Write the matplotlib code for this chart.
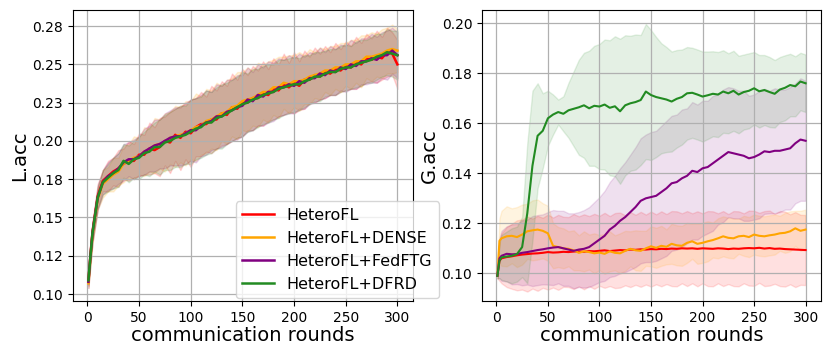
import matplotlib
matplotlib.use("Agg")
import matplotlib.pyplot as plt
import numpy as np

# communication rounds sampled from the curves
ROUNDS = [1, 3] + list(range(5, 301, 5))

METHODS = ["HeteroFL", "HeteroFL+DENSE", "HeteroFL+FedFTG", "HeteroFL+DFRD"]
COLORS = ["red", "orange", "purple", "forestgreen"]

# ---- left panel: L.acc (mean / std per method) ----
L_HETEROFL = [
    0.108, 0.126, 0.141, 0.164, 0.174, 0.177, 0.180, 0.182, 0.185, 0.187,
    0.187, 0.191, 0.191, 0.195, 0.194, 0.196, 0.200, 0.199, 0.204, 0.202,
    0.206, 0.205, 0.209, 0.211, 0.211, 0.214, 0.214, 0.218, 0.217, 0.222,
    0.221, 0.225, 0.225, 0.228, 0.228, 0.231, 0.230, 0.234, 0.233, 0.237,
    0.235, 0.238, 0.236, 0.240, 0.240, 0.243, 0.242, 0.245, 0.244, 0.247,
    0.246, 0.249, 0.248, 0.251, 0.250, 0.254, 0.253, 0.255, 0.254, 0.258,
    0.257, 0.250]
L_DENSE = [
    0.107, 0.124, 0.139, 0.162, 0.172, 0.175, 0.178, 0.180, 0.185, 0.187,
    0.189, 0.190, 0.193, 0.194, 0.197, 0.198, 0.199, 0.202, 0.203, 0.204,
    0.205, 0.207, 0.209, 0.210, 0.213, 0.214, 0.216, 0.218, 0.219, 0.222,
    0.223, 0.226, 0.227, 0.228, 0.230, 0.232, 0.232, 0.235, 0.235, 0.238,
    0.237, 0.239, 0.239, 0.240, 0.242, 0.243, 0.244, 0.246, 0.246, 0.248,
    0.248, 0.250, 0.250, 0.252, 0.252, 0.255, 0.255, 0.256, 0.257, 0.259,
    0.260, 0.259]
L_FEDFTG = [
    0.108, 0.125, 0.140, 0.163, 0.173, 0.177, 0.179, 0.182, 0.186, 0.188,
    0.188, 0.190, 0.193, 0.195, 0.197, 0.198, 0.200, 0.202, 0.203, 0.203,
    0.205, 0.207, 0.207, 0.210, 0.212, 0.213, 0.216, 0.216, 0.219, 0.220,
    0.222, 0.223, 0.227, 0.226, 0.230, 0.229, 0.232, 0.232, 0.235, 0.235,
    0.237, 0.236, 0.239, 0.238, 0.241, 0.241, 0.244, 0.243, 0.246, 0.245,
    0.248, 0.247, 0.250, 0.249, 0.252, 0.252, 0.254, 0.253, 0.256, 0.256,
    0.259, 0.256]
L_DFRD = [
    0.109, 0.125, 0.140, 0.163, 0.173, 0.176, 0.179, 0.181, 0.187, 0.185,
    0.188, 0.189, 0.192, 0.193, 0.196, 0.196, 0.199, 0.200, 0.202, 0.203,
    0.204, 0.206, 0.208, 0.209, 0.212, 0.212, 0.215, 0.216, 0.218, 0.220,
    0.222, 0.224, 0.225, 0.227, 0.228, 0.230, 0.231, 0.232, 0.234, 0.235,
    0.236, 0.237, 0.237, 0.239, 0.240, 0.242, 0.242, 0.244, 0.245, 0.245,
    0.247, 0.248, 0.248, 0.250, 0.251, 0.252, 0.253, 0.255, 0.256, 0.258,
    0.257, 0.256]

L_HETEROFL_STD = [
    0.003, 0.005, 0.007, 0.008, 0.007, 0.010, 0.009, 0.012, 0.010, 0.013,
    0.011, 0.014, 0.013, 0.017, 0.015, 0.019, 0.016, 0.020, 0.017, 0.021,
    0.018, 0.022, 0.019, 0.021, 0.018, 0.022, 0.019, 0.021, 0.019, 0.022,
    0.019, 0.022, 0.018, 0.021, 0.018, 0.021, 0.017, 0.020, 0.017, 0.020,
    0.016, 0.020, 0.016, 0.019, 0.015, 0.018, 0.015, 0.017, 0.014, 0.017,
    0.014, 0.016, 0.014, 0.017, 0.014, 0.016, 0.014, 0.017, 0.014, 0.016,
    0.014, 0.016]
L_DENSE_STD = [
    0.003, 0.006, 0.006, 0.007, 0.009, 0.008, 0.011, 0.009, 0.012, 0.011,
    0.014, 0.012, 0.016, 0.014, 0.018, 0.016, 0.019, 0.017, 0.020, 0.018,
    0.021, 0.019, 0.022, 0.019, 0.021, 0.019, 0.022, 0.018, 0.021, 0.019,
    0.022, 0.019, 0.021, 0.018, 0.021, 0.018, 0.020, 0.018, 0.020, 0.017,
    0.019, 0.017, 0.019, 0.016, 0.018, 0.015, 0.017, 0.014, 0.016, 0.014,
    0.016, 0.014, 0.016, 0.014, 0.017, 0.014, 0.016, 0.014, 0.016, 0.015,
    0.016, 0.014]
L_FEDFTG_STD = [
    0.004, 0.005, 0.006, 0.008, 0.008, 0.009, 0.010, 0.010, 0.012, 0.011,
    0.013, 0.013, 0.015, 0.015, 0.017, 0.016, 0.018, 0.018, 0.019, 0.019,
    0.020, 0.020, 0.021, 0.020, 0.021, 0.019, 0.021, 0.020, 0.021, 0.020,
    0.021, 0.020, 0.021, 0.019, 0.020, 0.019, 0.020, 0.019, 0.019, 0.018,
    0.019, 0.018, 0.018, 0.017, 0.017, 0.016, 0.017, 0.015, 0.016, 0.015,
    0.015, 0.015, 0.016, 0.015, 0.015, 0.015, 0.016, 0.015, 0.015, 0.016,
    0.015, 0.015]
L_DFRD_STD = [
    0.003, 0.005, 0.005, 0.007, 0.008, 0.009, 0.010, 0.011, 0.011, 0.012,
    0.012, 0.014, 0.014, 0.016, 0.016, 0.018, 0.018, 0.019, 0.019, 0.020,
    0.019, 0.021, 0.020, 0.020, 0.021, 0.020, 0.020, 0.021, 0.020, 0.020,
    0.020, 0.021, 0.019, 0.020, 0.019, 0.019, 0.019, 0.018, 0.019, 0.018,
    0.018, 0.018, 0.017, 0.017, 0.016, 0.016, 0.016, 0.015, 0.015, 0.015,
    0.015, 0.015, 0.014, 0.015, 0.015, 0.014, 0.015, 0.015, 0.014, 0.015,
    0.015, 0.016]

# ---- right panel: G.acc (mean / std per method) ----
G_HETEROFL = [
    0.0990, 0.1050, 0.1060, 0.1065, 0.1068, 0.1072, 0.1075, 0.1077, 0.1079, 0.1080,
    0.1082, 0.1085, 0.1083, 0.1084, 0.1086, 0.1085, 0.1087, 0.1088, 0.1086, 0.1089,
    0.1088, 0.1090, 0.1092, 0.1089, 0.1091, 0.1093, 0.1092, 0.1095, 0.1094, 0.1096,
    0.1095, 0.1097, 0.1096, 0.1098, 0.1097, 0.1099, 0.1098, 0.1100, 0.1099, 0.1100,
    0.1098, 0.1100, 0.1099, 0.1098, 0.1100, 0.1099, 0.1097, 0.1099, 0.1098, 0.1100,
    0.1101, 0.1100, 0.1102, 0.1099, 0.1101, 0.1098, 0.1099, 0.1097, 0.1096, 0.1095,
    0.1094, 0.1093]
G_DENSE = [
    0.0990, 0.1130, 0.1140, 0.1148, 0.1150, 0.1145, 0.1155, 0.1168, 0.1172, 0.1175,
    0.1170, 0.1160, 0.1110, 0.1105, 0.1100, 0.1098, 0.1092, 0.1082, 0.1088, 0.1085,
    0.1080, 0.1083, 0.1078, 0.1088, 0.1082, 0.1080, 0.1090, 0.1098, 0.1092, 0.1090,
    0.1100, 0.1108, 0.1102, 0.1110, 0.1106, 0.1118, 0.1112, 0.1110, 0.1122, 0.1128,
    0.1118, 0.1122, 0.1128, 0.1133, 0.1140, 0.1148, 0.1142, 0.1140, 0.1148, 0.1150,
    0.1145, 0.1155, 0.1150, 0.1148, 0.1152, 0.1155, 0.1160, 0.1162, 0.1168, 0.1180,
    0.1170, 0.1175]
G_FEDFTG = [
    0.0990, 0.1060, 0.1070, 0.1078, 0.1076, 0.1077, 0.1082, 0.1085, 0.1089, 0.1093,
    0.1096, 0.1100, 0.1103, 0.1105, 0.1100, 0.1095, 0.1090, 0.1095, 0.1098, 0.1105,
    0.1120, 0.1135, 0.1150, 0.1175, 0.1190, 0.1210, 0.1225, 0.1245, 0.1265, 0.1290,
    0.1300, 0.1305, 0.1310, 0.1325, 0.1340, 0.1360, 0.1365, 0.1380, 0.1390, 0.1410,
    0.1405, 0.1420, 0.1425, 0.1440, 0.1455, 0.1470, 0.1485, 0.1480, 0.1475, 0.1470,
    0.1460, 0.1465, 0.1475, 0.1488, 0.1485, 0.1490, 0.1490, 0.1495, 0.1500, 0.1520,
    0.1535, 0.1530]
G_DFRD = [
    0.0990, 0.1050, 0.1064, 0.1067, 0.1070, 0.1077, 0.1105, 0.1240, 0.1430, 0.1550,
    0.1570, 0.1620, 0.1635, 0.1645, 0.1638, 0.1652, 0.1658, 0.1664, 0.1672, 0.1660,
    0.1670, 0.1667, 0.1675, 0.1662, 0.1668, 0.1648, 0.1672, 0.1680, 0.1685, 0.1693,
    0.1727, 0.1713, 0.1705, 0.1700, 0.1695, 0.1687, 0.1698, 0.1705, 0.1720, 0.1722,
    0.1715, 0.1707, 0.1712, 0.1718, 0.1715, 0.1727, 0.1720, 0.1730, 0.1715, 0.1725,
    0.1730, 0.1740, 0.1728, 0.1733, 0.1725, 0.1718, 0.1735, 0.1742, 0.1753, 0.1748,
    0.1767, 0.1760]

G_HETEROFL_STD = [
    0.001, 0.008, 0.010, 0.012, 0.013, 0.014, 0.014, 0.015, 0.014, 0.015,
    0.014, 0.015, 0.014, 0.015, 0.014, 0.014, 0.015, 0.014, 0.015, 0.014,
    0.015, 0.014, 0.015, 0.014, 0.015, 0.015, 0.014, 0.015, 0.014, 0.015,
    0.014, 0.015, 0.014, 0.015, 0.014, 0.015, 0.015, 0.014, 0.015, 0.014,
    0.015, 0.014, 0.015, 0.015, 0.014, 0.015, 0.014, 0.015, 0.015, 0.014,
    0.015, 0.015, 0.014, 0.015, 0.015, 0.014, 0.015, 0.015, 0.014, 0.015,
    0.014, 0.014]
G_DENSE_STD = [
    0.001, 0.009, 0.011, 0.012, 0.011, 0.012, 0.012, 0.011, 0.012, 0.012,
    0.011, 0.011, 0.009, 0.008, 0.008, 0.007, 0.008, 0.007, 0.008, 0.007,
    0.008, 0.007, 0.008, 0.008, 0.007, 0.008, 0.008, 0.007, 0.008, 0.008,
    0.007, 0.008, 0.008, 0.008, 0.007, 0.008, 0.008, 0.008, 0.008, 0.007,
    0.008, 0.008, 0.008, 0.007, 0.008, 0.008, 0.008, 0.008, 0.007, 0.008,
    0.008, 0.008, 0.008, 0.008, 0.008, 0.008, 0.007, 0.008, 0.008, 0.007,
    0.008, 0.008]
G_FEDFTG_STD = [
    0.0010, 0.0080, 0.0100, 0.0110, 0.0120, 0.0120, 0.0130, 0.0130, 0.0140, 0.0140,
    0.0140, 0.0145, 0.0150, 0.0145, 0.0150, 0.0145, 0.0150, 0.0150, 0.0155, 0.0160,
    0.0165, 0.0170, 0.0180, 0.0190, 0.0200, 0.0210, 0.0220, 0.0230, 0.0240, 0.0250,
    0.0255, 0.0260, 0.0260, 0.0265, 0.0270, 0.0270, 0.0270, 0.0275, 0.0270, 0.0275,
    0.0270, 0.0270, 0.0265, 0.0270, 0.0260, 0.0265, 0.0260, 0.0260, 0.0255, 0.0260,
    0.0250, 0.0250, 0.0255, 0.0250, 0.0245, 0.0250, 0.0245, 0.0240, 0.0245, 0.0240,
    0.0245, 0.0240]
G_DFRD_STD = [
    0.0010, 0.0070, 0.0090, 0.0100, 0.0110, 0.0110, 0.0120, 0.0280, 0.0300, 0.0210,
    0.0150, 0.0110, 0.0080, 0.0050, 0.0070, 0.0110, 0.0150, 0.0190, 0.0210, 0.0230,
    0.0240, 0.0250, 0.0260, 0.0270, 0.0280, 0.0290, 0.0280, 0.0270, 0.0270, 0.0260,
    0.0270, 0.0260, 0.0240, 0.0220, 0.0210, 0.0200, 0.0195, 0.0190, 0.0185, 0.0180,
    0.0180, 0.0180, 0.0175, 0.0170, 0.0170, 0.0165, 0.0160, 0.0160, 0.0155, 0.0150,
    0.0150, 0.0145, 0.0145, 0.0140, 0.0140, 0.0135, 0.0130, 0.0130, 0.0125, 0.0120,
    0.0115, 0.0115]

L_MEANS = [L_HETEROFL, L_DENSE, L_FEDFTG, L_DFRD]
L_STDS = [L_HETEROFL_STD, L_DENSE_STD, L_FEDFTG_STD, L_DFRD_STD]
G_MEANS = [G_HETEROFL, G_DENSE, G_FEDFTG, G_DFRD]
G_STDS = [G_HETEROFL_STD, G_DENSE_STD, G_FEDFTG_STD, G_DFRD_STD]

L_TICKS = [0.100, 0.125, 0.150, 0.175, 0.200, 0.225, 0.250, 0.275]
L_TICKLABELS = ["0.10", "0.12", "0.15", "0.18", "0.20", "0.23", "0.25", "0.28"]
G_TICKS = [0.10, 0.12, 0.14, 0.16, 0.18, 0.20]
X_TICKS = [0, 50, 100, 150, 200, 250, 300]


def draw_panel(ax, means, stds, lw, alpha):
    x = np.array(ROUNDS)
    for name, color, m, s in zip(METHODS, COLORS, means, stds):
        m = np.array(m)
        s = np.array(s)
        ax.fill_between(x, m - s, m + s, color=color, alpha=alpha)
        ax.plot(x, m, color=color, lw=lw, label=name)
    ax.grid(True, color="#b0b0b0", lw=0.9)
    ax.set_xticks(X_TICKS)
    ax.tick_params(labelsize=10)
    ax.set_xlabel("communication rounds", fontsize=14, labelpad=1)


fig = plt.figure(figsize=(8.31, 3.58), dpi=100)
ax1 = fig.add_axes([0.0878, 0.159, 0.409, 0.813])
ax2 = fig.add_axes([0.580, 0.159, 0.408, 0.813])

draw_panel(ax1, L_MEANS, L_STDS, lw=1.8, alpha=0.15)
ax1.set_ylim(0.0954, 0.2855)
ax1.set_yticks(L_TICKS)
ax1.set_yticklabels(L_TICKLABELS)
ax1.set_ylabel("L.acc", fontsize=14, labelpad=2)
ax1.legend(loc="lower left", bbox_to_anchor=(0.479, 0.01), borderaxespad=0,
           fontsize=11.5, handlelength=2.0)

draw_panel(ax2, G_MEANS, G_STDS, lw=1.5, alpha=0.12)
ax2.set_ylim(0.0889, 0.2053)
ax2.set_yticks(G_TICKS)
ax2.set_yticklabels([f"{t:.2f}" for t in G_TICKS])
ax2.set_ylabel("G.acc", fontsize=14, labelpad=2)

fig.savefig("out.png", dpi=100)
